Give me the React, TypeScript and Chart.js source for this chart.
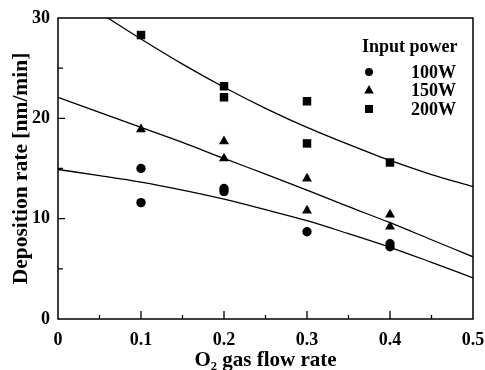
import React, { useEffect, useRef } from "react";
import { Chart, registerables } from "chart.js";

Chart.register(...registerables);

// Measured data (O2 gas flow rate vs deposition rate)
const x100 = [0.1, 0.1, 0.2, 0.2, 0.3, 0.4, 0.4];
const y100 = [15.0, 11.6, 13.0, 12.7, 8.7, 7.5, 7.2];
const x150 = [0.1, 0.2, 0.2, 0.3, 0.3, 0.4, 0.4];
const y150 = [18.9, 17.7, 16.0, 14.0, 10.8, 10.4, 9.2];
const x200 = [0.1, 0.2, 0.2, 0.3, 0.3, 0.4];
const y200 = [28.3, 23.2, 22.1, 21.7, 17.5, 15.6];

// Fit curves
const fitX = [0, 0.05, 0.1, 0.15, 0.2, 0.25, 0.3, 0.35, 0.4, 0.45, 0.5];
const fit100 = [14.9, 14.3, 13.65, 12.85, 11.95, 10.9, 9.8, 8.5, 7.15, 5.65, 4.1];
const fit150 = [22.1, 20.6, 19.1, 17.6, 16.0, 14.45, 12.85, 11.2, 9.6, 7.9, 6.2];
const fit200X = [0.06, 0.1, 0.15, 0.2, 0.25, 0.3, 0.35, 0.4, 0.45, 0.5];
const fit200 = [30.0, 27.9, 25.4, 23.1, 21.0, 19.1, 17.4, 15.8, 14.4, 13.2];

const xTickLabels = ["0", "0.1", "0.2", "0.3", "0.4", "0.5"];
const yTickLabels = ["0", "10", "20", "30"];
const xMajorTicks = [0.1, 0.2, 0.3, 0.4];
const xMinorTicks = [0.05, 0.15, 0.25, 0.35, 0.45];
const yMajorTicks = [10, 20];
const yMinorTicks = [5, 15, 25];

const legendTitle = "Input power";
const legendLabels = ["100W", "150W", "200W"];
const legendStyles = ["circle", "triangle", "rect"];

const FONT = "'Liberation Serif', 'Times New Roman', serif";

const pts = (xs: number[], ys: number[]) => xs.map((x, i) => ({ x, y: ys[i] }));

const framePlugin = {
  id: "frame",
  afterDraw(chart: any) {
    const { ctx, chartArea: a, scales } = chart;
    const xs = scales.x;
    const ys = scales.y;
    ctx.save();
    ctx.strokeStyle = "#000";
    ctx.lineWidth = 1.5;
    ctx.strokeRect(a.left, a.top, a.right - a.left, a.bottom - a.top);
    ctx.lineWidth = 1.3;
    ctx.beginPath();
    xMajorTicks.forEach((v) => {
      const p = xs.getPixelForValue(v);
      ctx.moveTo(p, a.bottom);
      ctx.lineTo(p, a.bottom - 8);
    });
    xMinorTicks.forEach((v) => {
      const p = xs.getPixelForValue(v);
      ctx.moveTo(p, a.bottom);
      ctx.lineTo(p, a.bottom - 4);
    });
    yMajorTicks.forEach((v) => {
      const p = ys.getPixelForValue(v);
      ctx.moveTo(a.left, p);
      ctx.lineTo(a.left + 7, p);
    });
    yMinorTicks.forEach((v) => {
      const p = ys.getPixelForValue(v);
      ctx.moveTo(a.left, p);
      ctx.lineTo(a.left + 5, p);
    });
    ctx.stroke();

    // legend
    ctx.fillStyle = "#000";
    ctx.font = `bold 18px ${FONT}`;
    ctx.textBaseline = "middle";
    ctx.textAlign = "left";
    ctx.fillText(legendTitle, 362, 47);
    const rowsY = [72, 90, 109];
    const mx = 369;
    legendLabels.forEach((lab, i) => {
      const y = rowsY[i];
      ctx.beginPath();
      const st = legendStyles[i];
      if (st === "circle") {
        ctx.arc(mx, y, 4, 0, Math.PI * 2);
      } else if (st === "triangle") {
        ctx.moveTo(mx, y - 5);
        ctx.lineTo(mx + 4.8, y + 3.5);
        ctx.lineTo(mx - 4.8, y + 3.5);
        ctx.closePath();
      } else {
        ctx.rect(mx - 4, y - 4, 8, 8);
      }
      ctx.fill();
      ctx.fillText(lab, 411, y + 1);
    });
    ctx.restore();
  },
};

export default function App() {
  const ref = useRef<HTMLCanvasElement>(null);
  useEffect(() => {
    document.body.style.margin = "0";
    const line = (data: any, xs: number[]) => ({
      type: "line" as const,
      data: pts(xs, data),
      borderColor: "#000",
      borderWidth: 1.3,
      pointRadius: 0,
      fill: false,
      cubicInterpolationMode: "monotone" as const,
    });
    const sc = (xs: number[], ys: number[], style: string, r: number) => ({
      type: "scatter" as const,
      data: pts(xs, ys),
      pointStyle: style,
      pointRadius: r,
      backgroundColor: "#000",
      borderColor: "#000",
      borderWidth: 0,
      showLine: false,
    });
    const chart = new Chart(ref.current!, {
      type: "scatter",
      data: {
        datasets: [
          line(fit100, fitX),
          line(fit150, fitX),
          line(fit200, fit200X),
          sc(x100, y100, "circle", 4.7),
          sc(x150, y150, "triangle", 5.8),
          sc(x200, y200, "rect", 6),
        ] as any,
      },
      options: {
        animation: false,
        responsive: false,
        maintainAspectRatio: false,
        layout: { padding: { left: 0, right: 12, top: 18, bottom: 0 } },
        plugins: { legend: { display: false }, tooltip: { enabled: false } },
        scales: {
          x: {
            type: "linear",
            min: 0,
            max: 0.5,
            grid: { display: false, drawTicks: false },
            border: { display: false },
            afterFit: (s: any) => {
              s.height = 51;
              s.paddingLeft = 0;
              s.paddingRight = 0;
            },
            afterBuildTicks: (s: any) => {
              s.ticks = xTickLabels.map((t) => ({ value: parseFloat(t) }));
            },
            ticks: {
              padding: 11,
              color: "#000",
              font: { family: FONT, size: 18, weight: "bold" },
              callback: (v: any, i: number) => xTickLabels[i],
              maxRotation: 0,
            },
            title: {
              display: true,
              text: "O₂ gas flow rate",
              color: "#000",
              font: { family: FONT, size: 21, weight: "bold", lineHeight: 0.8 },
              padding: { top: 0, bottom: 1 },
            },
          },
          y: {
            type: "linear",
            min: 0,
            max: 30,
            grid: { display: false, drawTicks: false },
            border: { display: false },
            afterFit: (s: any) => {
              s.width = 58;
              s.paddingTop = 0;
              s.paddingBottom = 0;
            },
            afterBuildTicks: (s: any) => {
              s.ticks = yTickLabels.map((t) => ({ value: parseFloat(t) }));
            },
            ticks: {
              padding: 8,
              color: "#000",
              font: { family: FONT, size: 18, weight: "bold" },
              callback: (v: any, i: number) => yTickLabels[i],
            },
            title: {
              display: true,
              text: "Deposition rate [nm/min]",
              color: "#000",
              font: { family: FONT, size: 21.5, weight: "bold", lineHeight: 1 },
              padding: { top: 11, bottom: 0 },
            },
          },
        },
      },
      plugins: [framePlugin],
    });
    return () => chart.destroy();
  }, []);
  return (
    <div style={{ width: 485, height: 370, background: "#fff" }}>
      <canvas ref={ref} width={485} height={370} style={{ display: "block" }} />
    </div>
  );
}
